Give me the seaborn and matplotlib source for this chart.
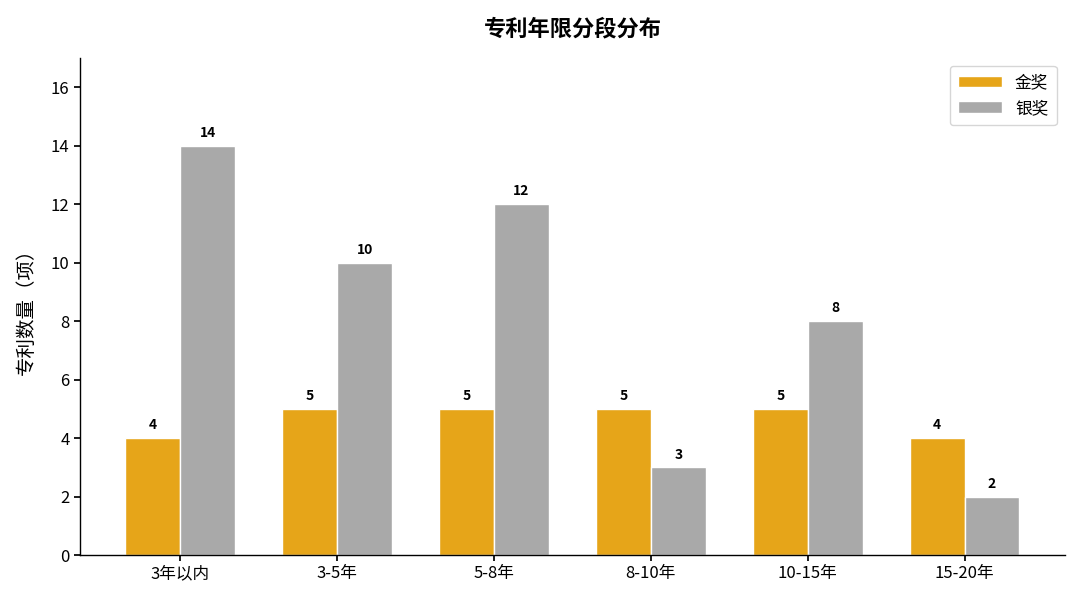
import matplotlib
matplotlib.use("Agg")
import matplotlib.pyplot as plt
import pandas as pd
import seaborn as sns

# data
categories = ["3年以内", "3-5年", "5-8年", "8-10年", "10-15年", "15-20年"]
gold = [4, 5, 5, 5, 5, 4]
silver = [14, 10, 12, 3, 8, 2]
series_names = ["金奖", "银奖"]

df = pd.DataFrame({
    "段": categories * 2,
    "数量": gold + silver,
    "奖项": [series_names[0]] * len(categories) + [series_names[1]] * len(categories),
})

sns.set_theme(style="white", rc={"text.color": "black", "axes.labelcolor": "black",
                                 "xtick.color": "black", "ytick.color": "black"})
plt.rcParams['font.family'] = ['Noto Sans CJK SC', 'DejaVu Sans']

fig, ax = plt.subplots(figsize=(10.8, 6.02), dpi=100)
sns.barplot(data=df, x="段", y="数量", hue="奖项", order=categories,
            palette=["#E6A519", "#A9A9A9"], width=0.7, edgecolor="white",
            linewidth=1, saturation=1, ax=ax)

# value labels on top of each bar
for cont in ax.containers:
    ax.bar_label(cont, padding=4, fontsize=10, fontweight="bold", color="black")

ax.set_ylim(0, 17)
ax.set_xlim(-0.64, 5.64)
ax.set_yticks(range(0, 17, 2))
ax.set_xlabel("")
ax.set_ylabel("专利数量（项）", fontsize=14, labelpad=10)
ax.set_title("专利年限分段分布", fontsize=16, fontweight="bold", pad=16)
ax.tick_params(axis="both", labelsize=12, left=True, bottom=True, length=4)
sns.despine(ax=ax)
for s in ["left", "bottom"]:
    ax.spines[s].set_color("black")
    ax.spines[s].set_linewidth(1)

ax.legend(loc="upper right", fontsize=12, frameon=True, fancybox=True,
          edgecolor="#cccccc", handlelength=2.6, borderpad=0.5)

plt.subplots_adjust(left=0.074, right=0.986, top=0.904, bottom=0.078)
plt.savefig("out.png", dpi=100)
